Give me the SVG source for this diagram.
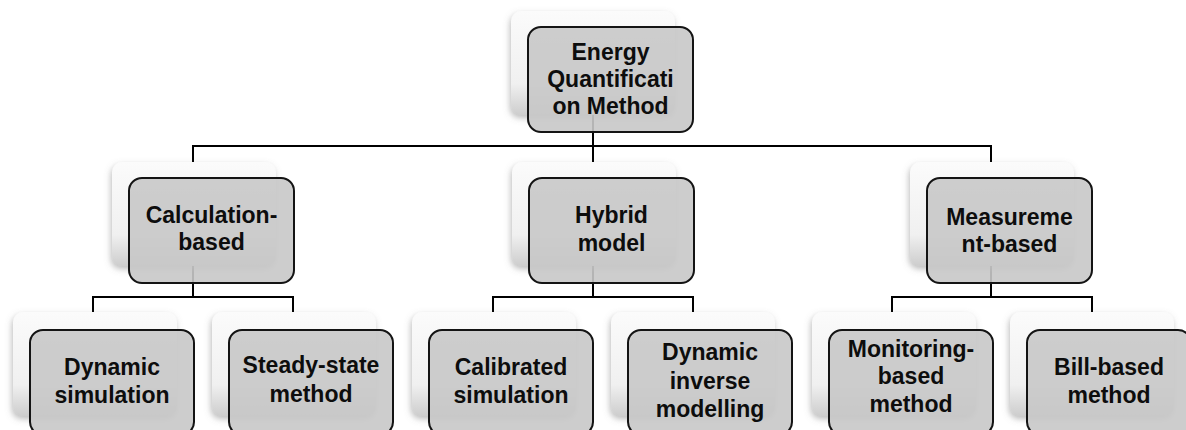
<svg xmlns="http://www.w3.org/2000/svg" width="1186" height="430" viewBox="0 0 1186 430">
<style>
.back{fill:url(#bg);filter:url(#sh)}
.front{fill:#c8c8c8;fill-opacity:0.9;stroke:#141414;stroke-width:2}
.lbl{font-family:"Liberation Sans",Arial,sans-serif;font-weight:bold;font-size:23px;fill:#0d0d0d;text-anchor:middle}
.conn line{stroke:#000;stroke-width:2}
</style>
<defs>
<linearGradient id="bg" x1="0" y1="0" x2="0" y2="1">
<stop offset="0" stop-color="#fbfbfb"/>
<stop offset="0.7" stop-color="#f0f0f0"/>
<stop offset="1" stop-color="#cdcdcd"/>
</linearGradient>
<filter id="sh" x="-10%" y="-10%" width="120%" height="125%">
<feDropShadow dx="-1" dy="3" stdDeviation="3" flood-color="#777" flood-opacity="0.5"/>
</filter>
</defs>
<rect width="1186" height="430" fill="#fff"/>
<g id="connectors" class="conn">
<line x1="593" y1="115" x2="593" y2="146"/>
<line x1="192" y1="146" x2="992" y2="146"/>
<line x1="193" y1="145" x2="193" y2="162"/>
<line x1="593" y1="145" x2="593" y2="162"/>
<line x1="991" y1="145" x2="991" y2="162"/>
<line x1="193" y1="266" x2="193" y2="297"/>
<line x1="92" y1="297" x2="294" y2="297"/>
<line x1="93" y1="296" x2="93" y2="312"/>
<line x1="293" y1="296" x2="293" y2="312"/>
<line x1="593" y1="266" x2="593" y2="297"/>
<line x1="492" y1="297" x2="694" y2="297"/>
<line x1="493" y1="296" x2="493" y2="312"/>
<line x1="693" y1="296" x2="693" y2="312"/>
<line x1="991" y1="266" x2="991" y2="297"/>
<line x1="891" y1="297" x2="1093" y2="297"/>
<line x1="892" y1="296" x2="892" y2="312"/>
<line x1="1092" y1="296" x2="1092" y2="312"/>
</g>
<g id="root">
<rect class="back" x="511" y="11" width="164" height="104" rx="10"/>
<rect class="front" x="528" y="27" width="165" height="105" rx="13"/>
<text class="lbl" x="610.5" y="60">Energy</text>
<text class="lbl" x="610.5" y="87">Quantificati</text>
<text class="lbl" x="610.5" y="114">on Method</text>
</g>
<g id="calc">
<rect class="back" x="112" y="162" width="164" height="104" rx="10"/>
<rect class="front" x="129" y="178" width="165" height="105" rx="13"/>
<text class="lbl" x="211.5" y="223">Calculation-</text>
<text class="lbl" x="211.5" y="250">based</text>
</g>
<g id="hybrid">
<rect class="back" x="512" y="162" width="164" height="104" rx="10"/>
<rect class="front" x="529" y="178" width="165" height="105" rx="13"/>
<text class="lbl" x="611.5" y="223">Hybrid</text>
<text class="lbl" x="611.5" y="251">model</text>
</g>
<g id="meas">
<rect class="back" x="910" y="162" width="164" height="104" rx="10"/>
<rect class="front" x="927" y="178" width="165" height="105" rx="13"/>
<text class="lbl" x="1009.5" y="225">Measureme</text>
<text class="lbl" x="1009.5" y="252">nt-based</text>
</g>
<g id="dyn">
<rect class="back" x="13" y="312" width="164" height="104" rx="10"/>
<rect class="front" x="30" y="330" width="164" height="105" rx="13"/>
<text class="lbl" x="112" y="375">Dynamic</text>
<text class="lbl" x="112" y="403">simulation</text>
</g>
<g id="steady">
<rect class="back" x="212" y="312" width="164" height="104" rx="10"/>
<rect class="front" x="229" y="330" width="164" height="105" rx="13"/>
<text class="lbl" x="311" y="373">Steady-state</text>
<text class="lbl" x="311" y="402">method</text>
</g>
<g id="calib">
<rect class="back" x="412" y="312" width="164" height="104" rx="10"/>
<rect class="front" x="429" y="330" width="164" height="105" rx="13"/>
<text class="lbl" x="511" y="375">Calibrated</text>
<text class="lbl" x="511" y="403">simulation</text>
</g>
<g id="dinv">
<rect class="back" x="611" y="312" width="164" height="104" rx="10"/>
<rect class="front" x="628" y="330" width="164" height="105" rx="13"/>
<text class="lbl" x="710" y="360">Dynamic</text>
<text class="lbl" x="710" y="389">inverse</text>
<text class="lbl" x="710" y="417">modelling</text>
</g>
<g id="monit">
<rect class="back" x="812" y="312" width="164" height="104" rx="10"/>
<rect class="front" x="829" y="330" width="164" height="105" rx="13"/>
<text class="lbl" x="911" y="357">Monitoring-</text>
<text class="lbl" x="911" y="384">based</text>
<text class="lbl" x="911" y="412">method</text>
</g>
<g id="bill">
<rect class="back" x="1010" y="312" width="164" height="104" rx="10"/>
<rect class="front" x="1027" y="330" width="164" height="105" rx="13"/>
<text class="lbl" x="1109" y="375">Bill-based</text>
<text class="lbl" x="1109" y="403">method</text>
</g>
</svg>
